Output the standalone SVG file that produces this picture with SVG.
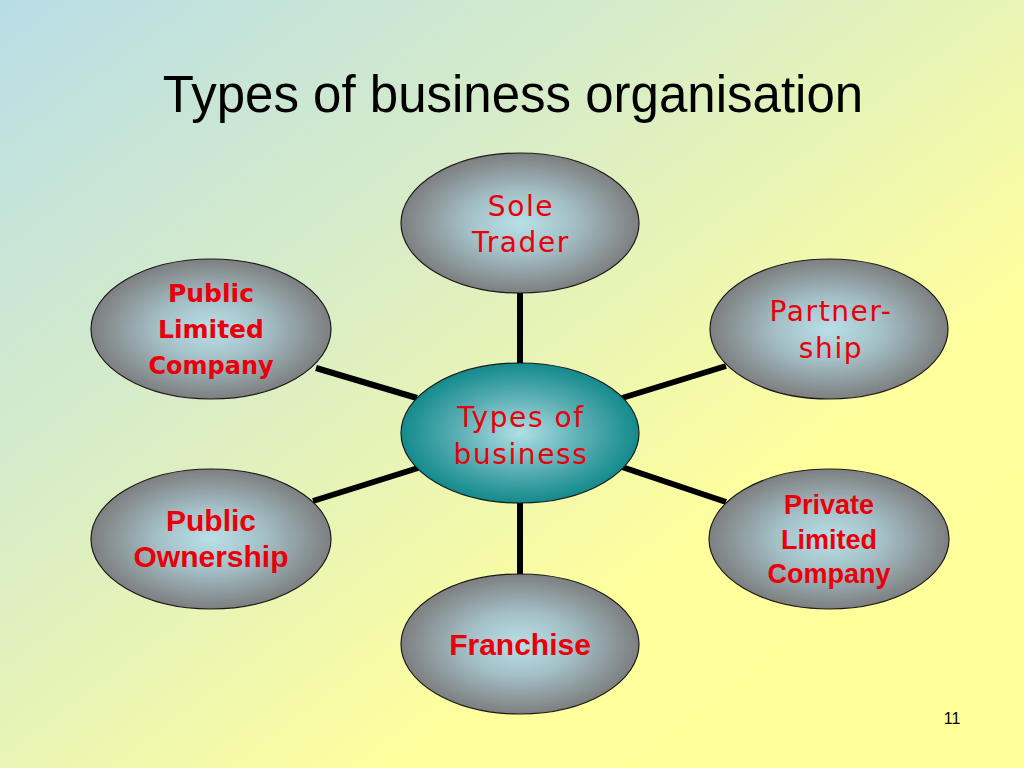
<svg xmlns="http://www.w3.org/2000/svg" width="1024" height="768" viewBox="0 0 1024 768">
<defs>
<linearGradient id="bg" x1="0" y1="0" x2="1" y2="1">
<stop offset="0" stop-color="#b8dde6"/>
<stop offset="0.35" stop-color="#d9edc6"/>
<stop offset="0.7" stop-color="#ffff9c"/>
<stop offset="1" stop-color="#ffff99"/>
</linearGradient>
<radialGradient id="gray" cx="0.5" cy="0.5" r="0.5">
<stop offset="0" stop-color="#b8e0e8"/>
<stop offset="0.45" stop-color="#a4bfc6"/>
<stop offset="1" stop-color="#7d7f80"/>
</radialGradient>
<radialGradient id="teal" cx="0.5" cy="0.5" r="0.5">
<stop offset="0" stop-color="#b0dfe6"/>
<stop offset="0.5" stop-color="#5fb1b6"/>
<stop offset="1" stop-color="#138a8c"/>
</radialGradient>
</defs>
<style>
.node{stroke:#1a1a1a;stroke-width:1.2}
.g{fill:url(#gray)}
.t{fill:url(#teal)}
.c{fill:#e8000a;font-family:"DejaVu Sans","Liberation Sans",sans-serif;text-anchor:middle}
.s{font-size:28px;letter-spacing:1.6px}
.a{fill:#e8000a;font-family:"Liberation Sans",Arial,sans-serif;font-weight:bold;text-anchor:middle}
.conn line{stroke:#000;stroke-width:6}
</style>
<rect width="1024" height="768" fill="url(#bg)"/>
<text x="513" y="112" font-family="'Liberation Sans',Arial,sans-serif" font-size="51" text-anchor="middle" fill="#000">Types of business organisation</text>
<g id="connectors" class="conn">
<line x1="520" y1="293" x2="520" y2="364"/>
<line x1="520" y1="502" x2="520" y2="575"/>
<line x1="316" y1="368" x2="417" y2="398"/>
<line x1="622" y1="398" x2="726" y2="366"/>
<line x1="313" y1="501" x2="418" y2="468"/>
<line x1="622" y1="467" x2="726" y2="502"/>
</g>
<g id="sole-trader">
<ellipse class="node g" cx="520" cy="223" rx="119" ry="70"/>
<text class="c s" x="521" y="216">Sole</text>
<text class="c s" x="521" y="252">Trader</text>
</g>
<g id="partnership">
<ellipse class="node g" cx="829" cy="329" rx="119" ry="70"/>
<text class="c s" x="831" y="321">Partner-</text>
<text class="c s" x="831" y="358">ship</text>
</g>
<g id="public-limited-company">
<ellipse class="node g" cx="211" cy="329" rx="120" ry="70"/>
<text class="c" x="211" y="302" font-size="25" font-weight="bold">Public</text>
<text class="c" x="211" y="338" font-size="25" font-weight="bold">Limited</text>
<text class="c" x="211" y="374" font-size="24" font-weight="bold">Company</text>
</g>
<g id="types-of-business">
<ellipse class="node t" cx="520" cy="433" rx="119" ry="70"/>
<text class="c s" x="521" y="427">Types of</text>
<text class="c s" x="521" y="464">business</text>
</g>
<g id="public-ownership">
<ellipse class="node g" cx="211" cy="539" rx="120" ry="70"/>
<text class="a" x="211" y="531" font-size="30">Public</text>
<text class="a" x="211" y="567" font-size="30">Ownership</text>
</g>
<g id="private-limited-company">
<ellipse class="node g" cx="829" cy="539" rx="120" ry="70"/>
<text class="a" x="829" y="514" font-size="27">Private</text>
<text class="a" x="829" y="549" font-size="27">Limited</text>
<text class="a" x="829" y="583" font-size="27">Company</text>
</g>
<g id="franchise">
<ellipse class="node g" cx="520" cy="644" rx="119" ry="70"/>
<text class="a" x="520" y="655" font-size="30">Franchise</text>
</g>
<text x="952" y="724" font-family="'Liberation Sans',Arial,sans-serif" font-size="16" text-anchor="middle" fill="#000">11</text>
</svg>
